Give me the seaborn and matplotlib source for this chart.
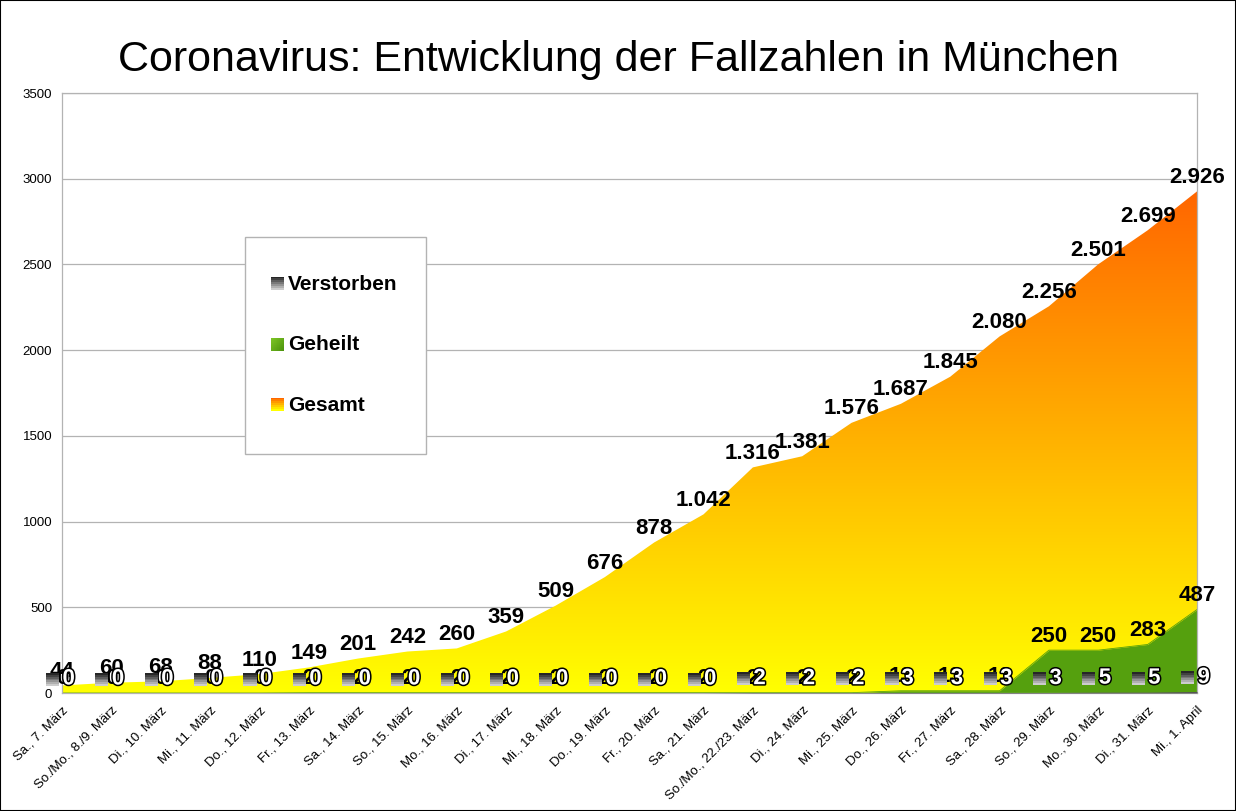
import numpy as np
import pandas as pd
import matplotlib
matplotlib.use("Agg")
import matplotlib.pyplot as plt
import seaborn as sns
from matplotlib.patches import Rectangle, PathPatch
import matplotlib.patheffects as pe

dates = ["Sa., 7. März", "So./Mo., 8./9. März", "Di., 10. März", "Mi., 11. März",
         "Do., 12. März", "Fr., 13. März", "Sa., 14. März", "So., 15. März",
         "Mo., 16. März", "Di., 17. März", "Mi., 18. März", "Do., 19. März",
         "Fr., 20. März", "Sa., 21. März", "So./Mo., 22./23. März", "Di., 24. März",
         "Mi., 25. März", "Do., 26. März", "Fr., 27. März", "Sa., 28. März",
         "So., 29. März", "Mo., 30. März", "Di., 31. März", "Mi., 1. April"]
gesamt = [44, 60, 68, 88, 110, 149, 201, 242, 260, 359, 509, 676, 878, 1042,
          1316, 1381, 1576, 1687, 1845, 2080, 2256, 2501, 2699, 2926]
geheilt = [0, 0, 0, 0, 0, 2, 2, 2, 2, 2, 2, 2, 2, 2, 2, 2, 2, 13, 13, 13,
           250, 250, 283, 487]
verstorben = [0, 0, 0, 0, 0, 0, 0, 0, 0, 0, 0, 0, 0, 0, 2, 2, 2, 3, 3, 3, 3, 5, 5, 9]
yticks = [0, 500, 1000, 1500, 2000, 2500, 3000, 3500]
legend_labels = ["Verstorben", "Geheilt", "Gesamt"]

df = pd.DataFrame({"x": np.arange(len(dates)), "Gesamt": gesamt,
                   "Geheilt": geheilt, "Verstorben": verstorben})

sns.set_style("white")
plt.rcParams["font.family"] = ["Liberation Sans", "DejaVu Sans"]

W, H = 1236, 811
fig = plt.figure(figsize=(W / 100, H / 100), dpi=100)
L, R, T, B = 62, 1197, 93, 693
ax = fig.add_axes([L / W, 1 - B / H, (R - L) / W, (B - T) / H])

def fpx(x, y):
    return (x / W, 1 - y / H)

GRID = "#b3b3b3"
GREEN = "#55a00e"
n = len(dates)
x = df["x"].values
ax.set_xlim(0, n - 1)
ax.set_ylim(0, 3500)
px_x = (n - 1) / (R - L)
px_y = 3500 / (B - T)

# Gesamt gradient area
poly = ax.fill_between(x, df["Gesamt"], color="none", lw=0)
path = poly.get_paths()[0]
clip = PathPatch(path, facecolor="none", edgecolor="none", transform=ax.transData)
ax.add_patch(clip)
t = np.linspace(0, 1, 256)[:, None]
top = np.array([1.0, 0.40, 0.0])
bot = np.array([1.0, 1.0, 0.0])
grad = (top[None, None, :] * (1 - t[:, :, None]) + bot[None, None, :] * t[:, :, None])
im = ax.imshow(grad, extent=[0, n - 1, 0, max(gesamt)], aspect="auto",
               origin="upper", zorder=1, interpolation="bilinear")
im.set_clip_path(clip)

# Geheilt area
ax.fill_between(x, df["Geheilt"], color=GREEN, lw=0, zorder=2)
sns.lineplot(data=df, x="x", y="Geheilt", ax=ax, color=GREEN, linewidth=0.6,
             legend=False, zorder=2)
# Verstorben area
ax.fill_between(x, df["Verstorben"], color="#555555", lw=0, zorder=3)

ax.set_xlim(0, n - 1)
ax.set_ylim(0, 3500)
ax.set_xlabel("")
ax.set_ylabel("")

# Grid / spines / ticks
ax.set_yticks(yticks)
ax.set_yticklabels([str(v) for v in yticks], fontsize=9.5)
ax.set_xticks(x)
ax.set_xticklabels(dates, rotation=45, ha="right", rotation_mode="anchor", fontsize=9.5)
ax.yaxis.grid(True, color=GRID, lw=0.9, zorder=0)
ax.set_axisbelow(True)
for s in ax.spines.values():
    s.set_color(GRID)
    s.set_linewidth(0.9)
ax.tick_params(axis="both", which="major", length=5, width=0.9, color=GRID,
               direction="out", pad=2, labelcolor="black")
ax.tick_params(axis="x", pad=3)

def fmt(v):
    return f"{v:,}".replace(",", ".")

# Gesamt labels
for xi, v in zip(x, gesamt):
    ax.annotate(fmt(v), (xi, v), xytext=(0, 14), textcoords="offset pixels",
                ha="center", va="center", fontsize=16, fontweight="bold",
                color="black", zorder=6, annotation_clip=False)
# Geheilt labels
for xi, v in zip(x, geheilt):
    ax.annotate(fmt(v), (xi, v), xytext=(0, 14), textcoords="offset pixels",
                ha="center", va="center", fontsize=16, fontweight="bold",
                color="black", zorder=6, annotation_clip=False)

# gray gradient key
def gray_key():
    steps = np.linspace(0.15, 0.8, 7)
    g = np.repeat(steps, 2)[:, None]
    return np.dstack([g, g, g])

def green_key():
    yy, xx = np.mgrid[0:20, 0:20] / 19.0
    s = (xx + yy) / 2
    c1 = np.array([0.50, 0.78, 0.15]); c2 = np.array([0.30, 0.58, 0.05])
    return c1[None, None, :] * (1 - s[:, :, None]) + c2[None, None, :] * s[:, :, None]

def orange_key():
    tt = np.repeat(np.linspace(0, 1, 7), 2)[:, None]
    return top[None, None, :] * (1 - tt[:, :, None]) + bot[None, None, :] * tt[:, :, None]

# Verstorben labels with key
for xi, v in zip(x, verstorben):
    cy = v + 14 * px_y
    ax.imshow(gray_key(), extent=[xi - 16 * px_x, xi - 3 * px_x, cy - 6.5 * px_y, cy + 6.5 * px_y],
              aspect="auto", origin="upper", zorder=7, interpolation="nearest", clip_on=False)
    ax.text(xi + 0.5 * px_x, cy, fmt(v), ha="left", va="center", fontsize=16,
            fontweight="bold", color="white", zorder=8, clip_on=False,
            path_effects=[pe.withStroke(linewidth=2.2, foreground="black")])

ax.set_xlim(0, n - 1)
ax.set_ylim(0, 3500)

# Title
fig.text(*fpx(618, 60), "Coronavirus: Entwicklung der Fallzahlen in München",
         ha="center", va="center", fontsize=31, color="black")

# Legend box
x0, y0 = fpx(245, 454)
x1, y1 = fpx(426, 237)
fig.patches.append(Rectangle((x0, y0), x1 - x0, y1 - y0, transform=fig.transFigure,
                             facecolor="white", edgecolor=GRID, lw=1.0, zorder=10))
keys = [gray_key(), green_key(), orange_key()]
for lab, k, cy in zip(legend_labels, keys, [284, 345, 405]):
    kx0, ky0 = fpx(271, cy + 6.5)
    kax = fig.add_axes([kx0, ky0, 13 / W, 13 / H], zorder=11)
    kax.imshow(k, aspect="auto", interpolation="nearest")
    kax.axis("off")
    fig.text(*fpx(288, cy), lab, ha="left", va="center", fontsize=15,
             fontweight="bold", color="black", zorder=12)

# Figure border
fig.patches.append(Rectangle((0, 0), 1, 1, transform=fig.transFigure, fill=False,
                             edgecolor="black", lw=1.5, zorder=20))

fig.savefig("out.png", dpi=100)
